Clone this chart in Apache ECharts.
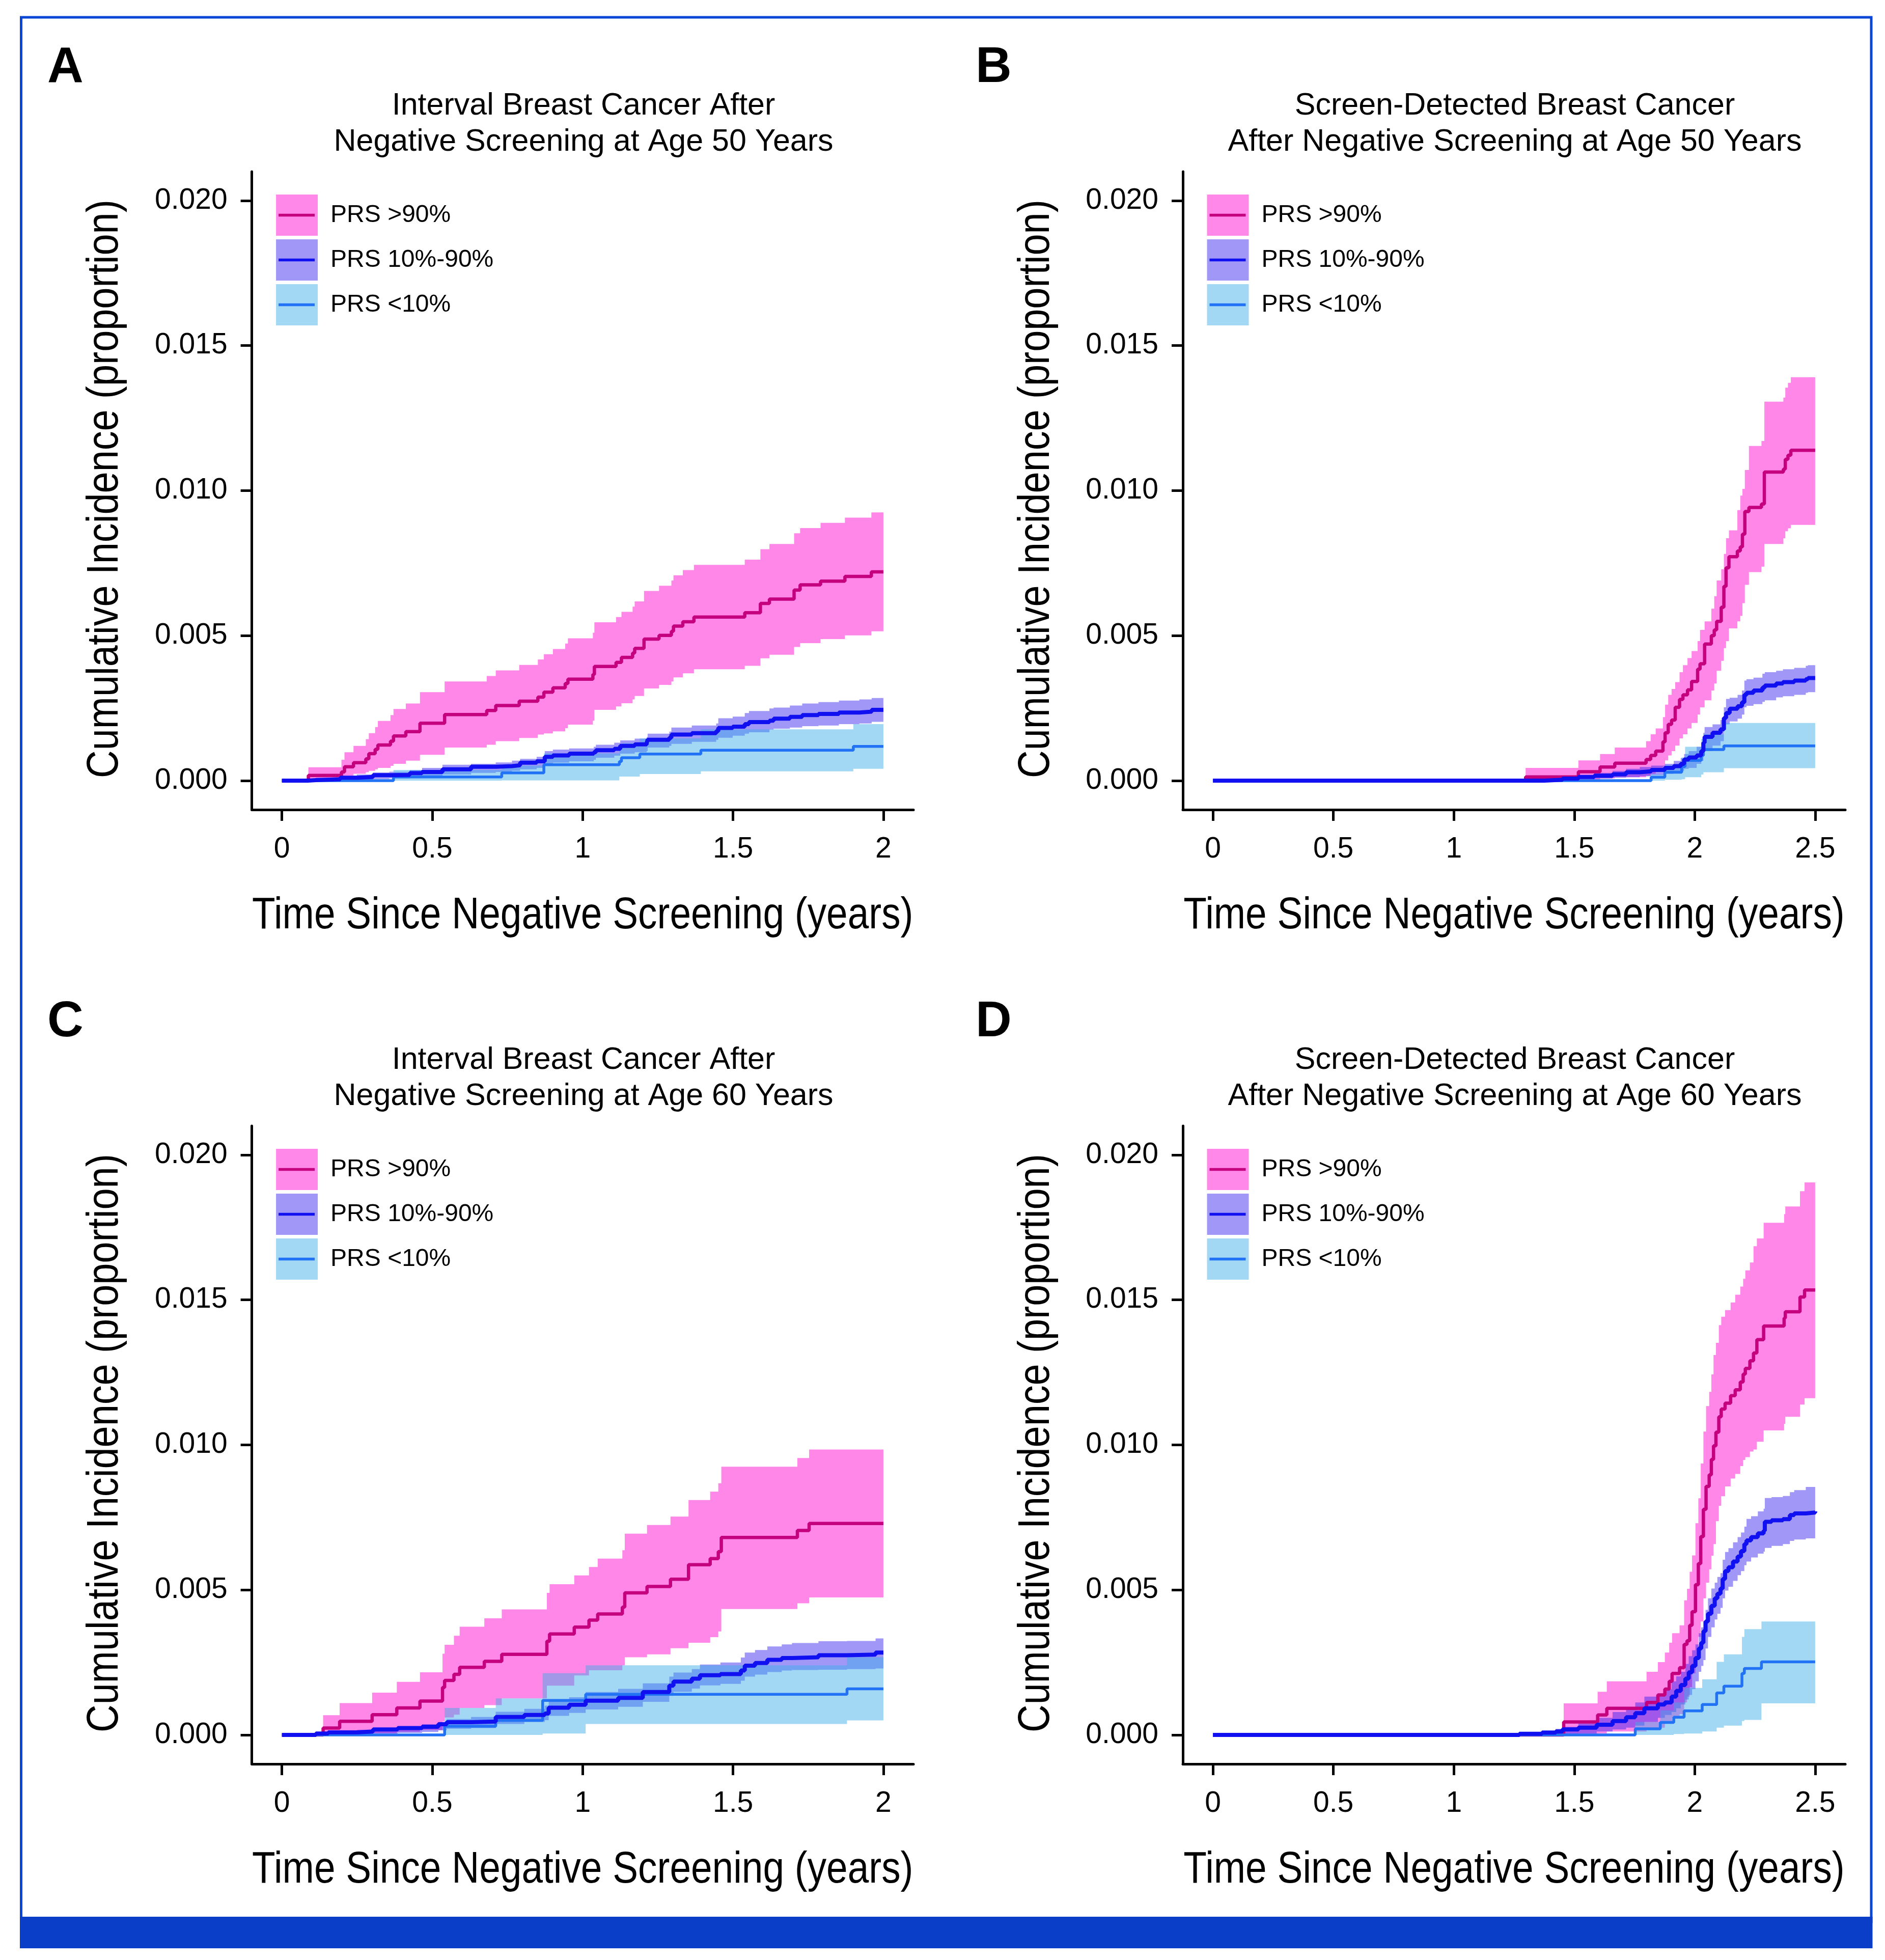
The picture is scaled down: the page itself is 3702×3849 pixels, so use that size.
<!DOCTYPE html>
<html><head><meta charset="utf-8">
<script src="https://cdn.jsdelivr.net/npm/echarts@6/dist/echarts.min.js"></script>
<style>html,body{margin:0;padding:0;background:#fff;}#c{width:3702px;height:3849px;}</style>
</head><body><div id="c"></div>
<script>
// ---------------- DATA ----------------
const groupNames = ['PRS >90%', 'PRS 10%-90%', 'PRS <10%'];
const xTicksA = [0, 0.5, 1, 1.5, 2];
const xTicksB = [0, 0.5, 1, 1.5, 2, 2.5];
const yTicks = [0, 0.005, 0.010, 0.015, 0.020];

// Panel A: interval cancer, age 50
const tA1 = [0,.088,.198,.208,.238,.279,.289,.310,.319,.361,.371,.412,.459,.541,.681,.711,.789,.851,.871,.901,.942,.951,1.034,1.039,1.111,1.129,1.166,1.173,1.204,1.254,1.295,1.302,1.333,1.370,1.539,1.591,1.621,1.703,1.723,1.791,1.872,1.960,2.0];
const estA1 = [0,.00018,.0003,.00048,.00062,.00075,.00093,.00108,.00123,.00136,.00154,.00169,.00198,.00228,.00242,.00259,.00274,.00288,.00305,.0032,.00335,.0035,.00366,.00394,.00408,.00425,.0044,.00456,.00488,.00501,.00515,.00533,.00548,.00564,.00579,.00611,.00626,.00657,.00675,.00688,.00704,.0072,.0072];
const loA1 = [0,0,.0001,.00017,.00024,.00029,.00034,.00039,.00044,.00051,.00058,.00069,.00089,.00114,.00124,.00136,.00147,.00159,.00163,.0017,.00181,.00193,.00207,.00244,.00256,.00267,.0028,.00292,.00318,.0033,.00342,.00356,.0037,.00384,.00396,.00422,.00434,.00461,.00474,.00488,.00501,.00515,.00515];
const hiA1 = [0,.00046,.00072,.00098,.0012,.00143,.00164,.00185,.00206,.00226,.00247,.00266,.00305,.00342,.00361,.0038,.00399,.00418,.00436,.00454,.00473,.00491,.0051,.00546,.00564,.00582,.006,.00618,.00654,.00672,.0069,.00708,.00726,.00744,.00762,.00798,.00816,.00853,.00871,.00889,.00907,.00925,.00925];

const tA2 = [0,.086,.113,.194,.249,.303,.357,.425,.466,.534,.629,.711,.765,.792,.847,.874,.901,.955,1.037,1.044,1.105,1.125,1.173,1.213,1.216,1.288,1.295,1.363,1.444,1.451,1.499,1.539,1.553,1.621,1.635,1.689,1.730,1.784,1.852,1.920,1.961,2.0];
const estA2 = [0,.00002,.00005,.0001,.00013,.00019,.0002,.00026,.0003,.00039,.00048,.0005,.00053,.00062,.00067,.00082,.00087,.00093,.00098,.00105,.0011,.0012,.00125,.0013,.00141,.00148,.00159,.00164,.00171,.00182,.00186,.00195,.00202,.00207,.00214,.0022,.00226,.0023,.00235,.00238,.00244,.00245];
const loA2 = [0,0,0,.00001,.00003,.00006,.00008,.00013,.00016,.00021,.00027,.0003,.00034,.00039,.00044,.00058,.00062,.00067,.00072,.00079,.00086,.00093,.00098,.00102,.00114,.0012,.00127,.00134,.00141,.00148,.00155,.00162,.00167,.00176,.00179,.00183,.00188,.0019,.00195,.00197,.00203,.00206];
const hiA2 = [0,.00006,.0001,.00017,.00021,.00028,.00031,.00037,.00044,.00055,.00058,.00063,.00069,.00075,.00082,.00102,.00107,.00111,.00117,.00124,.00131,.00139,.00145,.0015,.00162,.00169,.00183,.0019,.00197,.00215,.00221,.00233,.0024,.00249,.00252,.00259,.00266,.00271,.00276,.0028,.00285,.00285];

const tA3 = [0,.371,.731,.871,1.122,1.129,1.190,1.393,1.9,2.0];
const estA3 = [0,.00013,.00027,.00055,.00066,.00079,.00092,.00105,.00118,.00118];
const loA3 = [0,0,.00001,.00001,.00014,.00014,.00023,.00032,.00041,.00041];
const hiA3 = [0,.00037,.00052,.00094,.00115,.00129,.00146,.00177,.00195,.00195];

// Panel B: screen-detected cancer, age 50
const tB1 = [0,1.298,1.517,1.607,1.668,1.798,1.817,1.838,1.868,1.877,1.890,1.904,1.919,1.937,1.951,1.970,1.987,2.012,2.022,2.041,2.069,2.081,2.091,2.110,2.121,2.130,2.142,2.177,2.189,2.198,2.208,2.225,2.277,2.289,2.368,2.376,2.387,2.399,2.5];
const estB1 = [0,.00013,.00031,.00047,.0006,.00073,.00087,.00102,.00134,.00165,.00194,.00209,.00253,.0028,.00296,.00313,.00342,.00384,.00403,.00471,.005,.0052,.00549,.00598,.0067,.00734,.00772,.00792,.00806,.0085,.00928,.00942,.00954,.01064,.01074,.01108,.01122,.01139,.01139];
const loB1 = [0,0,.00002,.00008,.00012,.00017,.00024,.00034,.00049,.0007,.00087,.00102,.00121,.00146,.0016,.0018,.00199,.00228,.00253,.00277,.00311,.00335,.00379,.00413,.00457,.00481,.00525,.00549,.00568,.00612,.00675,.00719,.00738,.00816,.00836,.0086,.0087,.00882,.00882];
const hiB1 = [0,.00044,.0007,.00092,.00114,.00136,.0016,.0018,.00219,.00262,.00296,.00316,.0034,.00374,.00398,.00423,.00447,.00481,.0052,.00549,.00593,.00636,.0069,.00729,.00782,.00836,.00863,.00933,.00983,.01006,.01071,.01154,.01171,.01307,.01321,.01355,.01372,.01391,.01391];

const tB2 = [0,1.376,1.451,1.517,1.583,1.659,1.715,1.772,1.819,1.876,1.913,1.942,1.956,1.975,2.008,2.027,2.036,2.041,2.074,2.107,2.121,2.130,2.145,2.178,2.196,2.206,2.215,2.244,2.281,2.291,2.338,2.366,2.413,2.461,2.470,2.5];
const estB2 = [0,.00003,.00007,.00013,.00017,.00022,.00029,.00032,.00037,.00044,.0005,.00058,.00073,.0008,.00087,.00102,.00131,.00151,.00165,.00177,.00216,.00233,.00248,.00257,.0027,.00296,.00303,.00311,.00321,.00328,.00335,.0034,.00345,.0035,.00354,.00354];
const loB2 = [0,0,.00002,.00005,.00007,.0001,.00012,.00015,.00019,.00024,.00029,.00034,.00041,.00044,.00058,.00068,.00087,.00102,.00121,.00136,.00175,.00194,.00204,.00214,.00228,.00253,.00258,.00264,.00272,.00277,.00287,.00291,.00296,.00303,.00305,.00305];
const hiB2 = [0,.00005,.00012,.00019,.00027,.00034,.00041,.00047,.00052,.00058,.00068,.00078,.00092,.00102,.00117,.00131,.00165,.00185,.00194,.00209,.00253,.00282,.00286,.00296,.00311,.00345,.0035,.00355,.00369,.00374,.00379,.00384,.00389,.00396,.00398,.00398];

const tB3 = [0,1.819,1.876,1.946,1.960,2.027,2.036,2.121,2.5];
const estB3 = [0,.00012,.00029,.00049,.0007,.00087,.00107,.0012,.0012];
const loB3 = [0,0,.00003,.00005,.00012,.00021,.00029,.00043,.00043];
const hiB3 = [0,.00021,.00053,.0008,.00117,.00144,.0016,.00199,.00199];

// Panel C: interval cancer, age 60
const tC1 = [0,.137,.192,.3,.382,.459,.534,.541,.572,.591,.673,.731,.881,.890,.972,1.021,1.050,1.132,1.140,1.214,1.292,1.352,1.424,1.451,1.461,1.714,1.753,2.0];
const estC1 = [0,.00024,.00047,.0007,.00093,.00117,.00164,.00188,.00209,.00233,.00254,.00278,.00323,.00348,.00372,.00396,.00417,.00441,.0049,.00512,.00537,.00587,.00608,.00632,.00681,.00705,.00729,.00729];
const loC1 = [0,0,.00001,.00006,.00011,.00017,.00046,.0006,.0007,.00093,.00103,.00126,.0017,.0017,.00205,.00223,.00223,.0024,.00268,.00278,.00299,.00318,.00337,.00357,.00434,.00454,.00474,.00474];
const hiC1 = [0,.00068,.0011,.00146,.00183,.00216,.0028,.00311,.00342,.00373,.00402,.00433,.0049,.0052,.0055,.00579,.00608,.00637,.00694,.00724,.00753,.0081,.00839,.00868,.00925,.00955,.00984,.00984];

const tC2 = [0,.113,.154,.249,.303,.385,.466,.520,.548,.629,.711,.806,.874,.887,.955,1.010,1.118,1.200,1.288,1.302,1.363,1.390,1.458,1.526,1.539,1.573,1.614,1.662,1.696,1.784,1.879,1.974,2.0];
const estC2 = [0,.00005,.00009,.00012,.00019,.00024,.00028,.00037,.00044,.00046,.00062,.00069,.00074,.00094,.00104,.00118,.00128,.00148,.0017,.00184,.00194,.00206,.0021,.00222,.00239,.00248,.00259,.00265,.00268,.00275,.00277,.00284,.00284];
const loC2 = [0,0,.00001,.00002,.00005,.00007,.0001,.00016,.00021,.00024,.00038,.00045,.00051,.00066,.00076,.00088,.00097,.00114,.00135,.00149,.0016,.00171,.00176,.00187,.00201,.00208,.00217,.00222,.00224,.00225,.00227,.00229,.00229];
const hiC2 = [0,.00007,.0001,.00017,.00022,.00028,.00037,.00045,.00055,.00062,.0008,.0009,.00101,.00121,.0013,.00148,.00159,.00178,.00201,.00215,.00227,.00243,.0025,.00267,.00284,.00293,.00305,.00312,.00317,.00323,.00324,.00333,.00333];

const tC3 = [0,.541,.711,.867,1.010,1.879,2.0];
const estC3 = [0,.0003,.0005,.00119,.0014,.00159,.00159];
const loC3 = [0,0,0,.00005,.00038,.0005,.0005];
const hiC3 = [0,.00093,.00126,.00213,.0024,.00268,.00268];

// Panel D: screen-detected cancer, age 60
const tD1 = [0,1.456,1.597,1.635,1.800,1.847,1.876,1.894,1.906,1.937,1.956,1.968,1.979,1.989,2.003,2.015,2.025,2.036,2.047,2.060,2.069,2.078,2.088,2.100,2.110,2.126,2.149,2.168,2.189,2.201,2.210,2.229,2.244,2.258,2.286,2.371,2.376,2.437,2.456,2.5];
const estD1 = [0,.00045,.00069,.00092,.00112,.00138,.00158,.00185,.00212,.00232,.00312,.00325,.00378,.00425,.00518,.00591,.00684,.00778,.00857,.00897,.0095,.00997,.01044,.01097,.01124,.01144,.0117,.0119,.01217,.01244,.01264,.0129,.01317,.01363,.0141,.01437,.01459,.0151,.01534,.01534];
const loD1 = [0,0,.00005,.00012,.00019,.00025,.00039,.00045,.00059,.00072,.00112,.00132,.00165,.00212,.00271,.00338,.00391,.00471,.00525,.00571,.00618,.00658,.00737,.0079,.00823,.00857,.00884,.009,.00927,.00948,.00958,.00977,.00984,.01011,.0105,.01073,.01097,.01139,.01161,.01161];
const hiD1 = [0,.00109,.00149,.00185,.00218,.00251,.00284,.00318,.00351,.00378,.00464,.00504,.00563,.00619,.0073,.00816,.00936,.01046,.01134,.01183,.01243,.0131,.01352,.01413,.01442,.01465,.01491,.01518,.01546,.01573,.01602,.01629,.01685,.01712,.01766,.01796,.01822,.01875,.01905,.01905];

const tD2 = [0,1.272,1.366,1.423,1.451,1.517,1.593,1.659,1.715,1.753,1.791,1.847,1.876,1.904,1.923,1.942,1.961,1.975,1.989,2.003,2.017,2.027,2.036,2.045,2.055,2.069,2.083,2.094,2.107,2.116,2.126,2.140,2.159,2.178,2.192,2.206,2.215,2.234,2.262,2.286,2.291,2.319,2.366,2.395,2.413,2.461,2.5];
const estD2 = [0,.00004,.00008,.00012,.00019,.00025,.00035,.00048,.00061,.00075,.00092,.00105,.00112,.00132,.00152,.00172,.00194,.00216,.00238,.00265,.00298,.00318,.00358,.00391,.00418,.00445,.00471,.00487,.00505,.00538,.00565,.00578,.00598,.00615,.00634,.00658,.00671,.00682,.00695,.00704,.00735,.0074,.00744,.00758,.00764,.00767,.00771];
const loD2 = [0,0,.00001,.00003,.00004,.00005,.00012,.00019,.00025,.00032,.00045,.00059,.00069,.00079,.00092,.00105,.00122,.00138,.00158,.00185,.00218,.00238,.00258,.00298,.00338,.00371,.00398,.00418,.00438,.00471,.00498,.00511,.00531,.00551,.00565,.00585,.00598,.00612,.00625,.00632,.00645,.00652,.00658,.00669,.00674,.00678,.00682];
const hiD2 = [0,.00008,.00016,.00021,.00028,.00039,.00059,.00079,.00096,.00112,.00132,.00141,.00158,.00185,.00202,.00218,.00245,.00272,.00292,.00312,.00351,.00371,.00391,.00431,.00471,.00505,.00525,.00545,.00558,.00604,.00631,.00644,.00664,.00682,.00698,.00718,.00745,.00754,.00771,.0078,.00817,.0082,.00824,.00837,.00844,.00855,.00857];

const tD3 = [0,1.753,1.857,1.913,1.956,2.031,2.091,2.121,2.196,2.206,2.277,2.5];
const estD3 = [0,.00021,.00043,.00061,.00083,.00105,.00145,.00168,.00212,.00229,.00252,.00252];
const loD3 = [0,0,0,.00003,.00005,.00012,.00025,.00032,.00048,.00052,.00109,.00109];
const hiD3 = [0,.00045,.00085,.00112,.00162,.00192,.00252,.00278,.00338,.00365,.00391,.00391];

// ---------------- STYLE ----------------
const lineColors = ['#C4007F', '#1010F0', '#2272F5'];
const lineWidths = [6.5, 8, 5.5];
const bandColors = ['rgba(255,0,204,0.47)', 'rgba(53,34,238,0.47)', 'rgba(59,172,234,0.47)'];
const boxColors = ['#FF88E8', '#A097F7', '#A3D8F5'];
const FONT = "'Liberation Sans', Arial, Helvetica, sans-serif";
const CONDENSE_X = 0.85;
const CONDENSE_Y = 0.86;

const panels = [
  {letter:'A', title:['Interval Breast Cancer After','Negative Screening at Age 50 Years'],
   grid:{left:494.6, top:337, width:1299.4, height:1253}, xmin:-0.1, xmax:2.1, xt:xTicksA,
   groups:[[tA1,estA1,loA1,hiA1],[tA2,estA2,loA2,hiA2],[tA3,estA3,loA3,hiA3]], tcx:1146},
  {letter:'B', title:['Screen-Detected Breast Cancer','After Negative Screening at Age 50 Years'],
   grid:{left:2323, top:337, width:1301, height:1253}, xmin:-0.125, xmax:2.625, xt:xTicksB,
   groups:[[tB1,estB1,loB1,hiB1],[tB2,estB2,loB2,hiB2],[tB3,estB3,loB3,hiB3]], tcx:2975},
  {letter:'C', title:['Interval Breast Cancer After','Negative Screening at Age 60 Years'],
   grid:{left:494.6, top:2211, width:1299.4, height:1253}, xmin:-0.1, xmax:2.1, xt:xTicksA,
   groups:[[tC1,estC1,loC1,hiC1],[tC2,estC2,loC2,hiC2],[tC3,estC3,loC3,hiC3]], tcx:1146},
  {letter:'D', title:['Screen-Detected Breast Cancer','After Negative Screening at Age 60 Years'],
   grid:{left:2323, top:2211, width:1301, height:1253}, xmin:-0.125, xmax:2.625, xt:xTicksB,
   groups:[[tD1,estD1,loD1,hiD1],[tD2,estD2,loD2,hiD2],[tD3,estD3,loD3,hiD3]], tcx:2975}
];

const grids = [], xAxes = [], yAxes = [], series = [], graphics = [];

// frame and bottom bar
graphics.push({type:'rect', silent:true, shape:{x:41.5, y:34, width:3633.5, height:3740}, style:{fill:'none', stroke:'#0A46D6', lineWidth:5}, z:0});
graphics.push({type:'rect', silent:true, shape:{x:39, y:3764, width:3638.5, height:62}, style:{fill:'#0A3EC8'}, z:1});

function bandSeries(pi, t, lo, hi, color, name) {
  return {
    name:name, type:'custom', xAxisIndex:pi, yAxisIndex:pi, silent:true, z:1, clip:true, animation:false,
    data:[[t[0], lo[0]]],
    renderItem:function (params, api) {
      const up = [], dn = [];
      for (let i = 0; i < t.length; i++) {
        const x0 = t[i], x1 = i < t.length - 1 ? t[i + 1] : t[i];
        up.push(api.coord([x0, hi[i]]), api.coord([x1, hi[i]]));
        dn.push(api.coord([x0, lo[i]]), api.coord([x1, lo[i]]));
      }
      return {type:'polygon', shape:{points:up.concat(dn.reverse())}, style:{fill:color, stroke:null}};
    }
  };
}

panels.forEach((p, pi) => {
  const g = p.grid;
  grids.push({left:g.left, top:g.top, width:g.width, height:g.height, containLabel:false, outerBoundsMode:'none'});
  xAxes.push({
    gridIndex:pi, type:'value', min:p.xmin, max:p.xmax,
    axisLine:{show:true, onZero:false, lineStyle:{color:'#000', width:5}},
    axisTick:{show:true, length:22, lineStyle:{color:'#000', width:5}, customValues:p.xt},
    axisLabel:{show:true, customValues:p.xt, formatter:v => String(v), fontSize:57, fontFamily:FONT, color:'#000', margin:50},
    splitLine:{show:false}
  });
  yAxes.push({
    gridIndex:pi, type:'value', min:-0.001, max:0.021,
    axisLine:{show:true, onZero:false, lineStyle:{color:'#000', width:5}},
    axisTick:{show:true, length:22, lineStyle:{color:'#000', width:5}, customValues:yTicks},
    axisLabel:{show:true, customValues:yTicks, formatter:v => v.toFixed(3), fontSize:57, fontFamily:FONT, color:'#000', margin:48},
    splitLine:{show:false}
  });
  // confidence bands: pink, purple, light blue
  [0,1,2].forEach(k => {
    const [t, est, lo, hi] = p.groups[k];
    series.push(bandSeries(pi, t, lo, hi, bandColors[k], groupNames[k] + ' CI'));
  });
  // estimate lines: pink, light blue, dark blue on top
  [0,2,1].forEach(k => {
    const [t, est] = p.groups[k];
    series.push({name:groupNames[k], type:'line', xAxisIndex:pi, yAxisIndex:pi, step:'end', symbol:'none', silent:true,
      lineStyle:{color:lineColors[k], width:lineWidths[k]}, data:t.map((x,i) => [x, est[i]]), z:3, animation:false});
  });

  // panel letter
  graphics.push({type:'text', silent:true, x:(pi % 2 === 0 ? 93 : 1916), y:g.top - 203,
    style:{text:p.letter, fontSize:98, fontWeight:'bold', fontFamily:FONT, fill:'#000', align:'left', verticalAlign:'middle'}});
  // title
  p.title.forEach((line, li) => {
    graphics.push({type:'text', silent:true, x:p.tcx, y:g.top - 129 + li * 71,
      style:{text:line, fontSize:61, fontFamily:FONT, fill:'#000', align:'center', verticalAlign:'middle'}});
  });
  // axis titles (condensed via horizontal scaling)
  graphics.push({type:'text', silent:true, x:g.left + g.width / 2, y:g.top + 1462, scaleX:CONDENSE_X,
    style:{text:'Time Since Negative Screening (years)', fontSize:88, fontFamily:FONT, fill:'#000', align:'center', verticalAlign:'middle'}});
  graphics.push({type:'text', silent:true, x:g.left - 287.6, y:g.top + 623, rotation:Math.PI / 2, scaleX:CONDENSE_Y,
    style:{text:'Cumulative Incidence (proportion)', fontSize:88, fontFamily:FONT, fill:'#000', align:'center', verticalAlign:'middle'}});
  // legend
  [0,1,2].forEach(k => {
    const bx = g.left + 47.5, by = g.top + 45 + k * 88;
    graphics.push({type:'rect', silent:true, shape:{x:bx, y:by, width:82, height:81}, style:{fill:boxColors[k]}, z:5});
    graphics.push({type:'line', silent:true, shape:{x1:bx + 5, y1:by + 40.5, x2:bx + 76, y2:by + 40.5}, style:{stroke:lineColors[k], lineWidth:5.5}, z:6});
    graphics.push({type:'text', silent:true, x:g.left + 154.5, y:by + 40.5,
      style:{text:groupNames[k], fontSize:48, fontFamily:FONT, fill:'#000', align:'left', verticalAlign:'middle'}, z:6});
  });
});

const chart = echarts.init(document.getElementById('c'), null, {renderer:'canvas'});
chart.setOption({
  animation:false,
  backgroundColor:'#ffffff',
  grid:grids, xAxis:xAxes, yAxis:yAxes, series:series,
  graphic:{elements:graphics}
});
</script>
</body></html>
